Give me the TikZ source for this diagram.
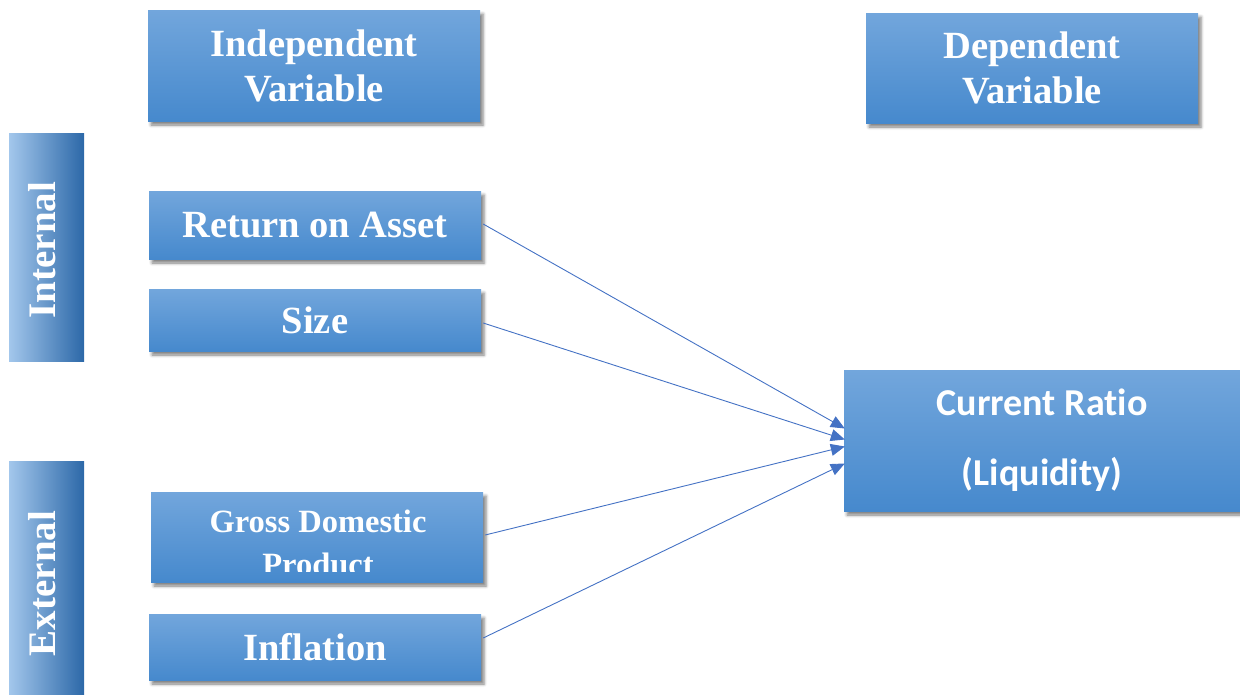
\documentclass[tikz,border=0pt]{standalone}
\usepackage{fontspec}
\setmainfont{Liberation Serif}
\newfontfamily\calib[Ligatures=NoCommon]{Carlito}
\usetikzlibrary{arrows.meta,shadows.blur,calc}
\definecolor{boxtop}{RGB}{114,166,220}
\definecolor{boxbot}{RGB}{70,137,205}
\definecolor{barlight}{RGB}{163,199,236}
\definecolor{bardark}{RGB}{44,104,168}
\definecolor{arrowblue}{RGB}{68,114,196}
\tikzset{
  bluebox/.style={rectangle, inner sep=0pt, top color=boxtop, bottom color=boxbot,
    text=white, align=center,
    blur shadow={shadow xshift=3pt, shadow yshift=-4pt, shadow blur radius=3pt, shadow opacity=50}},
  bigserif/.style={font=\fontsize{38.5}{45}\selectfont\bfseries},
  sidebar/.style={rectangle, inner sep=0pt, left color=barlight, right color=bardark},
  sidetext/.style={text=white, font=\fontsize{39}{40}\selectfont\bfseries, rotate=90},
  link/.style={draw=arrowblue, line width=0.9pt, -{Triangle[length=14pt,width=12pt]}},
}
\begin{document}
\begin{tikzpicture}[x=1pt,y=-1pt]
\useasboundingbox (0,0) rectangle (1240,694);

% column headings
\node[bluebox, bigserif, minimum width=332pt, minimum height=111pt] (indep) at (314,65.5) {Independent\\Variable};
\node[bluebox, bigserif, minimum width=332pt, minimum height=110pt] (dep) at (1032,68) {Dependent\\Variable};

% group bars
\node[sidebar, minimum width=75pt, minimum height=228pt] (intbar) at (46.5,247) {};
\node[sidetext] (inttext) at (42,250) {Internal};
\node[sidebar, minimum width=75pt, minimum height=233pt] (extbar) at (46.5,577.5) {};
\node[sidetext] (exttext) at (42,583.5) {External};

% independent variables
\node[bluebox, bigserif, minimum width=332pt, minimum height=68pt] (roa) at (315,225) {Return on Asset};
\node[bluebox, bigserif, minimum width=332pt, minimum height=62pt] (size) at (315,320) {Size};
\node[bluebox, minimum width=332pt, minimum height=90pt] (gdp) at (317,537) {};
\begin{scope}
  \clip (151,492) rectangle (483,571);
  \node[text=white, align=center, anchor=north, inner sep=0pt,
    font=\fontsize{32.5}{43}\selectfont\bfseries] (gdptext) at (318,510) {Gross Domestic\\Product};
\end{scope}
\node[bluebox, bigserif, minimum width=332pt, minimum height=66pt] (infl) at (315,647) {Inflation};

% dependent variable
\node[bluebox, minimum width=396pt, minimum height=141pt,
  font=\calib\fontsize{38}{70}\selectfont\bfseries] (cr) at (1042,440.5) {Current Ratio\\(Liquidity)};

% arrow targets on the left edge of the ratio box
\coordinate (t1) at ($(cr.west)+(1,-12)$);
\coordinate (t2) at ($(cr.west)+(1,-1)$);
\coordinate (t3) at ($(cr.west)+(1,6)$);
\coordinate (t4) at ($(cr.west)+(1,23)$);

\draw[link] ($(roa.east)+(2,-1)$) -- (t1);
\draw[link] ($(size.east)+(2,3)$) -- (t2);
\draw[link] ($(gdp.east)+(2,-2)$) -- (t3);
\draw[link] ($(infl.east)+(2,-9)$) -- (t4);
\end{tikzpicture}
\end{document}
